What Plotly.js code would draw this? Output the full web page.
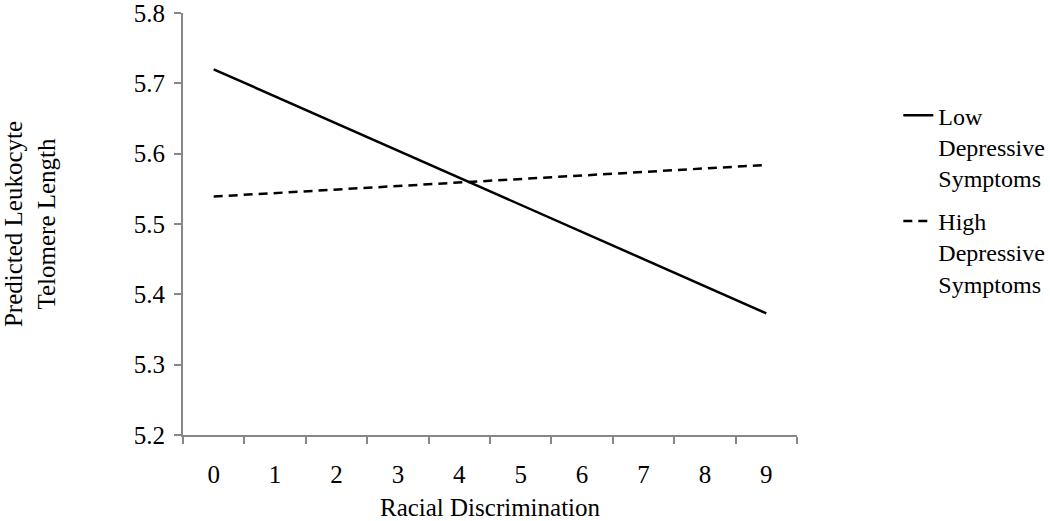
<!DOCTYPE html>
<html>
<head>
<meta charset="utf-8">
<script src="https://cdn.plot.ly/plotly-3.0.1.min.js"></script>
<style>
  html, body { margin: 0; padding: 0; background: #fff; }
  #grafica { width: 1050px; height: 521px; }
</style>
</head>
<body>
<div id="grafica"></div>
<script>
// valores
const nivelesDiscriminacion = ['0', '1', '2', '3', '4', '5', '6', '7', '8', '9'];
// solo se leen los extremos de cada recta (los demas quedan vacios)
const sintomasBajos = [5.72, null, null, null, null, null, null, null, null, 5.373];
const sintomasAltos = [5.539, null, null, null, null, null, null, null, null, 5.584];
const nombresSeries = ['Low<br>Depressive<br>Symptoms', 'High<br>Depressive<br>Symptoms'];

const fuente = 'Liberation Serif, Times New Roman, serif';
const grisEje = '#878787';

const trazaBaja = {
    x: nivelesDiscriminacion, y: sintomasBajos, name: nombresSeries[0],
    type: 'scatter', mode: 'lines', connectgaps: true, legendgroup: 'a',
    line: { color: '#000', width: 2.5 }
};
const trazaAlta = {
    x: nivelesDiscriminacion, y: sintomasAltos, name: nombresSeries[1],
    type: 'scatter', mode: 'lines', connectgaps: true, legendgroup: 'b',
    line: { color: '#000', width: 2.5, dash: '9px,6px' }
};

Plotly.newPlot('grafica', [trazaBaja, trazaAlta], {
    width: 1050, height: 521,
    margin: { l: 183, r: 253, t: 13, b: 86, autoexpand: false },
    paper_bgcolor: '#fff', plot_bgcolor: '#fff',
    font: { family: fuente, size: 25, color: '#000' },
    showlegend: true,
    legend: {
        x: 1.165, xanchor: 'left', y: 0.81, yanchor: 'top',
        valign: 'top', tracegroupgap: 9,
        font: { family: fuente, size: 24, color: '#000' }
    },
    xaxis: {
        type: 'category',
        categoryorder: 'array', categoryarray: nivelesDiscriminacion,
        range: [-0.5, 9.5],
        tickson: 'boundaries',
        ticks: 'outside', ticklen: 7, tickwidth: 2, tickcolor: grisEje,
        ticklabelstandoff: 16,
        showline: true, linecolor: grisEje, linewidth: 2,
        showgrid: false, zeroline: false,
        tickfont: { family: fuente, size: 25 },
        title: { text: 'Racial Discrimination', font: { family: fuente, size: 25 }, standoff: 12 }
    },
    yaxis: {
        range: [5.2, 5.8], dtick: 0.1, tickformat: '.1f',
        ticks: 'outside', ticklen: 7, tickwidth: 2, tickcolor: grisEje,
        ticklabelstandoff: 4, ticklabeloverflow: 'allow',
        showline: true, linecolor: grisEje, linewidth: 2,
        showgrid: false, zeroline: false,
        tickfont: { family: fuente, size: 25 },
        title: { text: 'Predicted Leukocyte<br>Telomere Length', font: { family: fuente, size: 25 }, standoff: 75 }
    }
}, { displayModeBar: false });
</script>
</body>
</html>
